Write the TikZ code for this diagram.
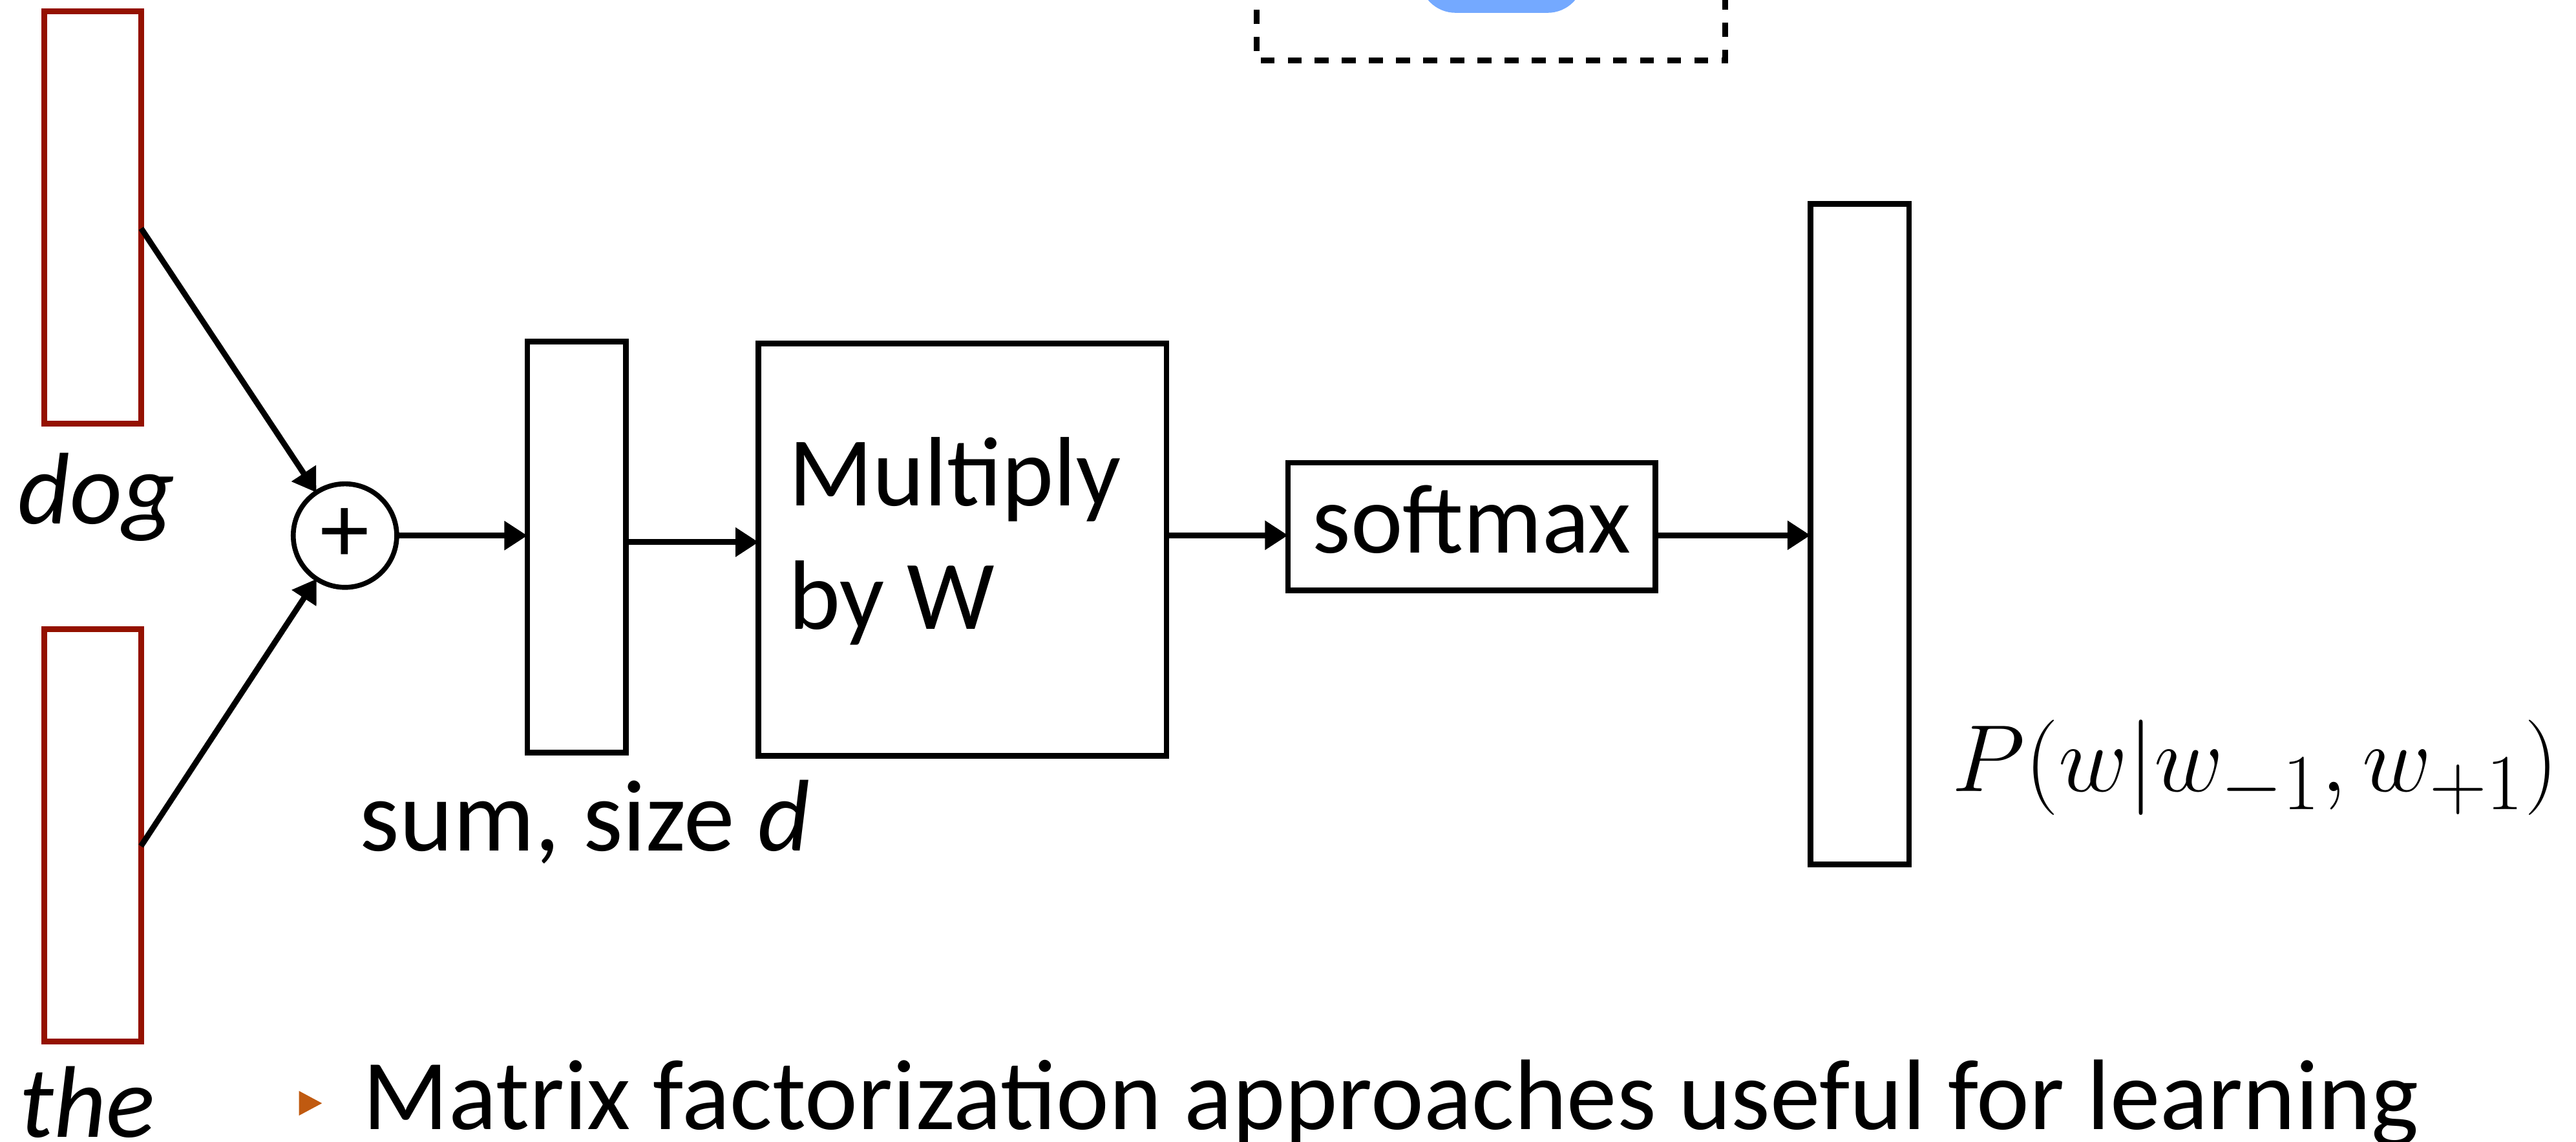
\documentclass[tikz,border=0pt]{standalone}
\usepackage{graphicx}
\usepackage{fontspec}
\setmainfont{Carlito}
\usetikzlibrary{arrows.meta}
\definecolor{wordred}{RGB}{148,17,0}
\definecolor{bulletorange}{RGB}{192,90,16}
\definecolor{keyblue}{RGB}{116,169,255}
\begin{document}
\begin{tikzpicture}[x=1pt,y=-1pt,
  font=\fontsize{60}{75}\selectfont,
  box/.style={draw, line width=3.5pt, inner sep=0pt, outer sep=0pt},
  wordbox/.style={draw=wordred, line width=3.5pt, inner sep=0pt, outer sep=0pt, minimum width=59pt},
  conn/.style={line width=3.5pt, -{Triangle[length=14pt,width=17pt]}},
  lbl/.style={inner sep=0pt, outer sep=0pt, anchor=base west},
  wordlbl/.style={lbl, font=\fontsize{62}{75}\selectfont\itshape}]
\useasboundingbox (0,0) rectangle (1568,695);
\clip (0,0) rectangle (1568,695);

% partially visible dashed frame with blue key
\fill[keyblue, rounded corners=22pt] (864,-60) rectangle (964,7.8);
\draw[line width=3.5pt, dash pattern=on 8.5pt off 8pt] (765,-60) -- (765,36.7) -- (1050,36.7) -- (1050,-60);

% word vectors
\node[wordbox, minimum height=251pt] (dog) at (56.4,132.5) {};
\node[wordbox, minimum height=251pt] (the) at (56.3,508.5) {};
\node[wordlbl] (doglbl) at (11,319) {dog};
\node[wordlbl] (thelbl) at (12,692) {the};

% sum
\node[draw, circle, line width=3pt, minimum size=63pt, inner sep=0pt, outer sep=0pt] (plus) at (210,326) {+};
\node[box, minimum width=60pt, minimum height=250pt] (sum) at (351,333) {};
\node[lbl, font=\fontsize{62}{75}\selectfont] (sumlbl) at (219,518) {sum, size \textit{d}};

% multiply
\node[box, minimum width=248.3pt, minimum height=251pt] (mult) at (585.9,334.5) {};
\node[lbl] (mult1) at (480,307.7) {Multiply};
\node[lbl] (mult2) at (480,383) {by W};

% softmax
\node[box, minimum width=223.6pt, minimum height=77.7pt, text height=42pt, text depth=10pt] (soft) at (895.8,320.5) {softmax};

% output
\node[box, minimum width=60pt, minimum height=402pt] (out) at (1132,325) {};
\node[lbl] (prob) at (1188,481.5) {\scalebox{2.33}{\fontsize{24.88}{30}\selectfont$P(w|w_{-1},w_{+1})$}};

% connectors
\draw[conn] ([yshift=-6.5pt]dog.east) -- (plus);
\draw[conn] ([yshift=-6.5pt]the.east) -- (plus);
\draw[conn] (plus.east) -- (plus.east -| sum.west);
\draw[conn] ([yshift=3pt]sum.east) -- ([yshift=3pt]sum.east -| mult.west);
\draw[conn] ([yshift=-5.3pt]soft.west -| mult.east) -- ([yshift=-5.3pt]soft.west);
\draw[conn] ([yshift=-5.3pt]soft.east) -- ([yshift=-5.3pt]soft.east -| out.west);

% bullet
\fill[bulletorange] (182,664) -- (196,671.5) -- (182,679) -- cycle;
\node[lbl, font=\fontsize{61}{75}\selectfont] (bullet) at (221,687.6) {Matrix factorization approaches useful for learning};
\end{tikzpicture}
\end{document}
